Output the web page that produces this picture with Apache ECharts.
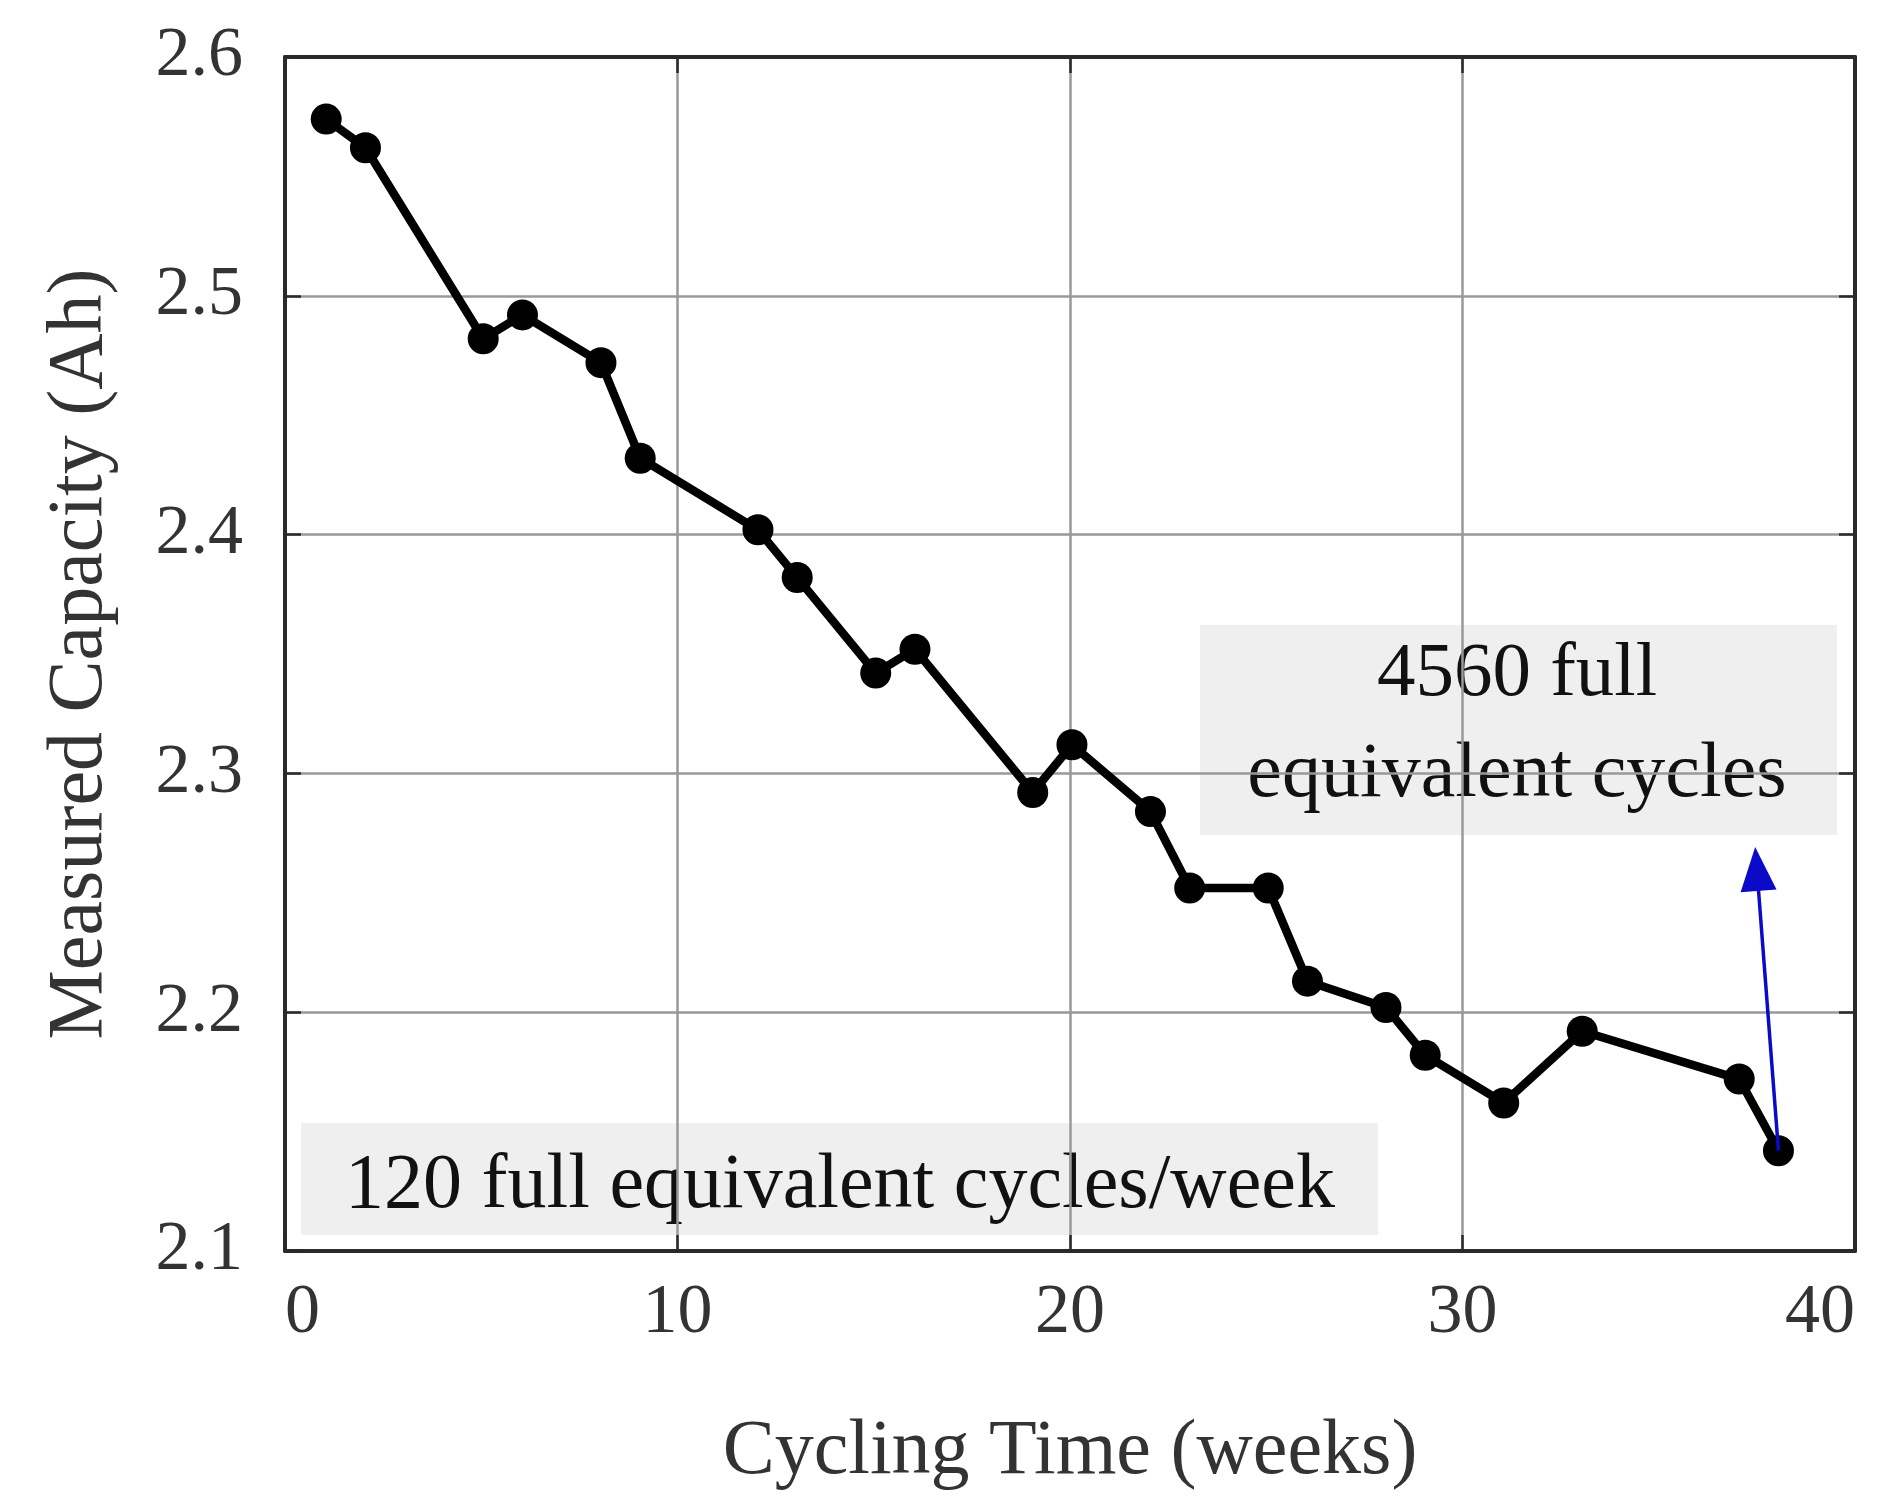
<!DOCTYPE html>
<html>
<head>
<meta charset="utf-8">
<script src="https://cdn.jsdelivr.net/npm/echarts@6/dist/echarts.min.js"></script>
<style>
  html, body { margin: 0; padding: 0; background: #ffffff; }
  #chart { width: 1904px; height: 1508px; }
</style>
</head>
<body>
<div id="chart"></div>
<script>
// Data
const weeks = [1.05, 2.05, 5.05, 6.05, 8.05, 9.05, 12.05, 13.05, 15.05, 16.05, 19.05, 20.05,
               22.05, 23.05, 25.05, 26.05, 28.05, 29.05, 31.05, 33.05, 37.05, 38.05];
const capacity = [2.574, 2.562, 2.482, 2.492, 2.472, 2.432, 2.402, 2.382, 2.342, 2.352, 2.292, 2.312,
                  2.284, 2.252, 2.252, 2.213, 2.202, 2.182, 2.162, 2.192, 2.172, 2.142];
const xTicks = [0, 10, 20, 30, 40];
const yTicks = [2.1, 2.2, 2.3, 2.4, 2.5, 2.6];
const arrowStart = [38.05, 2.142];
const arrowEnd = [37.5, 2.26];
const noteLeft = '120 full equivalent cycles/week';
const noteRight = ['4560 full', 'equivalent cycles'];
const xName = 'Cycling Time (weeks)';
const yName = 'Measured Capacity (Ah)';

const FONT = '"Liberation Serif", "Times New Roman", serif';
const chart = echarts.init(document.getElementById('chart'), null, { renderer: 'canvas' });

const lineDark = () => ({ show: true, onZero: false, lineStyle: { color: '#2a2a2a', width: 4 } });
const tickIn = () => ({ show: true, inside: true, length: 16, lineStyle: { color: '#2a2a2a', width: 2.5 } });
const grid2 = () => ({ show: true, showMinLine: false, showMaxLine: false, lineStyle: { color: '#999', width: 2.5 } });

chart.setOption({
  backgroundColor: '#ffffff',
  animation: false,
  grid: { left: 285, right: 49, top: 57, bottom: 257, show: false },
  xAxis: [{
    type: 'value', min: xTicks[0], max: xTicks[xTicks.length - 1], interval: 10,
    name: xName, nameLocation: 'middle', nameGap: 163,
    nameTextStyle: { fontFamily: FONT, fontSize: 78, color: '#333' },
    axisLine: lineDark(), axisTick: tickIn(),
    axisLabel: { inside: false, fontFamily: FONT, fontSize: 70, color: '#333', margin: 28, alignMinLabel: 'left', alignMaxLabel: 'right' },
    splitLine: grid2()
  }, {
    type: 'value', position: 'top', min: xTicks[0], max: xTicks[xTicks.length - 1], interval: 10,
    axisLine: lineDark(), axisTick: tickIn(), axisLabel: { show: false }, splitLine: { show: false }
  }],
  yAxis: [{
    type: 'value', position: 'left', min: yTicks[0], max: yTicks[yTicks.length - 1], interval: 0.1,
    name: yName, nameLocation: 'middle', nameGap: 165, nameRotate: 90,
    nameTextStyle: { fontFamily: FONT, fontSize: 78, color: '#333' },
    axisLine: lineDark(), axisTick: tickIn(),
    axisLabel: { inside: false, fontFamily: FONT, fontSize: 70, color: '#333', margin: 42, formatter: v => v.toFixed(1) },
    splitLine: grid2()
  }, {
    type: 'value', position: 'right', min: yTicks[0], max: yTicks[yTicks.length - 1], interval: 0.1,
    axisLine: lineDark(), axisTick: tickIn(), axisLabel: { show: false }, splitLine: { show: false }
  }],
  graphic: [
    {
      type: 'group', z: 1,
      children: [
        { type: 'rect', shape: { x: 301, y: 1123, width: 1077, height: 112 }, style: { fill: '#efefef' } },
        { type: 'text', x: 840, y: 1187, style: { text: noteLeft, font: '78px ' + FONT, fill: '#111', align: 'center', verticalAlign: 'middle' } },
        { type: 'rect', shape: { x: 1200, y: 625, width: 637, height: 210 }, style: { fill: '#efefef' } },
        { type: 'text', x: 1517, y: 675, style: { text: noteRight[0], font: '77px ' + FONT, fill: '#111', align: 'center', verticalAlign: 'middle' } },
        { type: 'text', x: 1517, y: 776, style: { text: noteRight[1], font: '78px ' + FONT, fill: '#111', align: 'center', verticalAlign: 'middle' } }
      ]
    }
  ],
  series: [{
    type: 'line',
    data: weeks.map((w, i) => [w, capacity[i]]),
    symbol: 'circle', symbolSize: 31,
    lineStyle: { color: '#000', width: 8.5 },
    itemStyle: { color: '#000' },
    z: 3,
    markLine: {
      silent: true,
      symbol: ['none', 'triangle'],
      symbolSize: [36, 44],
      label: { show: false },
      lineStyle: { color: '#0a0ac8', width: 3.5, type: 'solid' },
      data: [[{ coord: arrowStart }, { coord: arrowEnd }]]
    }
  }]
});
</script>
</body>
</html>
